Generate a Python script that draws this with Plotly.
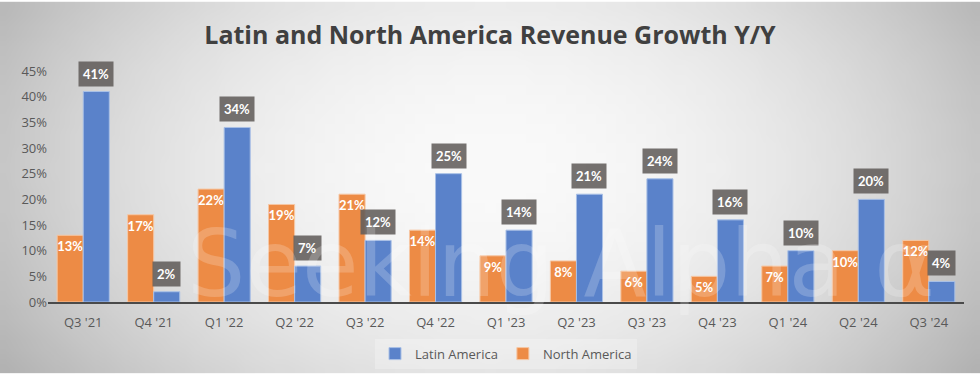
import base64, struct, zlib
import numpy as np
import plotly.graph_objects as go

quarters = ["Q3 '21", "Q4 '21", "Q1 '22", "Q2 '22", "Q3 '22", "Q4 '22", "Q1 '23",
            "Q2 '23", "Q3 '23", "Q4 '23", "Q1 '24", "Q2 '24", "Q3 '24"]
latin_america = [41, 2, 34, 7, 12, 25, 14, 21, 24, 16, 10, 20, 4]
north_america = [13, 17, 22, 19, 21, 14, 9, 8, 6, 5, 7, 10, 12]
y_ticks = [0, 5, 10, 15, 20, 25, 30, 35, 40, 45]
y_tick_labels = [f"{v}%" for v in y_ticks]

W, H = 980, 381
ML, MR, MT, MB = 48, 16, 71, 73
PW, PH = W - ML - MR, H - MT - MB


def gradient_png(w, h):
    ys, xs = np.mgrid[0:h, 0:w]
    dx = (xs + 0.5 - w / 2) / (w / 2)
    dy = (ys + 0.5 - h * 0.45) / (h * 0.55)
    v = 250 - 52 * dx ** 2 - 22 * dy ** 2
    v = np.clip(v, 0, 255).astype(np.uint8)
    raw = b"".join(b"\x00" + v[i].tobytes() for i in range(h))

    def chunk(tag, data):
        c = tag + data
        return struct.pack(">I", len(data)) + c + struct.pack(">I", zlib.crc32(c) & 0xffffffff)

    png = b"\x89PNG\r\n\x1a\n" + chunk(b"IHDR", struct.pack(">IIBBBBB", w, h, 8, 0, 0, 0, 0))
    png += chunk(b"IDAT", zlib.compress(raw, 9)) + chunk(b"IEND", b"")
    return "data:image/png;base64," + base64.b64encode(png).decode()


fig = go.Figure()
fig.add_trace(go.Bar(
    x=quarters, y=north_america, name="North America", legendrank=2,
    marker=dict(color="#ED8B45", line=dict(color="#F6C7A4", width=1)),
    text=[f"{v}%" for v in north_america], texttemplate="%{text}",
    textposition="inside", insidetextanchor="end", textangle=0,
    textfont=dict(color="white", size=13, family="Lato", weight="bold"),
    constraintext="none",
))
fig.add_trace(go.Bar(
    x=quarters, y=latin_america, name="Latin America", legendrank=1,
    marker=dict(color="#5A82CA", line=dict(color="#A9C0E6", width=1)),
))

for q, v in zip(quarters, latin_america):
    fig.add_annotation(
        x=q, y=v, xref="x", yref="y", text=f"<b>{v}%</b>", showarrow=False,
        yanchor="bottom", xshift=13, yshift=5,
        bgcolor="rgba(98,93,91,0.88)", borderpad=4,
        font=dict(color="white", size=13, family="Lato"),
    )

# watermark
fig.add_annotation(
    x=0.56, y=(38) / PH, xref="paper", yref="paper", text="Seeking Alpha α",
    showarrow=False, yanchor="middle",
    font=dict(size=92, family="DejaVu Sans", color="rgba(255,255,255,0.2)"),
)

fig.add_layout_image(dict(
    source=gradient_png(98, 38), xref="paper", yref="paper",
    x=-ML / PW, y=1 + MT / PH, sizex=W / PW, sizey=H / PH,
    xanchor="left", yanchor="top", sizing="stretch", layer="below",
))

fig.update_layout(
    width=W, height=H,
    margin=dict(l=ML, r=MR, t=MT, b=MB),
    paper_bgcolor="rgba(0,0,0,0)", plot_bgcolor="rgba(0,0,0,0)",
    barmode="group", bargap=0.26, bargroupgap=0,
    title=dict(text="<b>Latin and North America Revenue Growth Y/Y</b>", x=0.5, xanchor="center",
               y=1 - 35 / H, yanchor="middle",
               font=dict(size=25, family="Open Sans", color="#404040")),
    font=dict(family="Open Sans", color="#595959", size=12),
    showlegend=True,
    legend=dict(orientation="h", x=0.5, xanchor="center", y=-(361 - (MT + PH)) / PH, yanchor="middle",
                bgcolor="rgba(255,255,255,0.25)", font=dict(size=13, color="#595959"),
                itemwidth=30, traceorder="normal"),
    xaxis=dict(showline=True, linecolor="#4a4a4a", linewidth=1.5, ticks="", showgrid=False,
               ticklabelstandoff=8, tickfont=dict(size=13, color="#595959")),
    yaxis=dict(range=[0, 45], tickvals=y_ticks, ticktext=y_tick_labels, showgrid=False, zeroline=False,
               showline=False, tickfont=dict(size=13, color="#595959")),
)

fig.write_html("out.html", config={"displayModeBar": False},
               post_script="document.body.style.margin='0';")
